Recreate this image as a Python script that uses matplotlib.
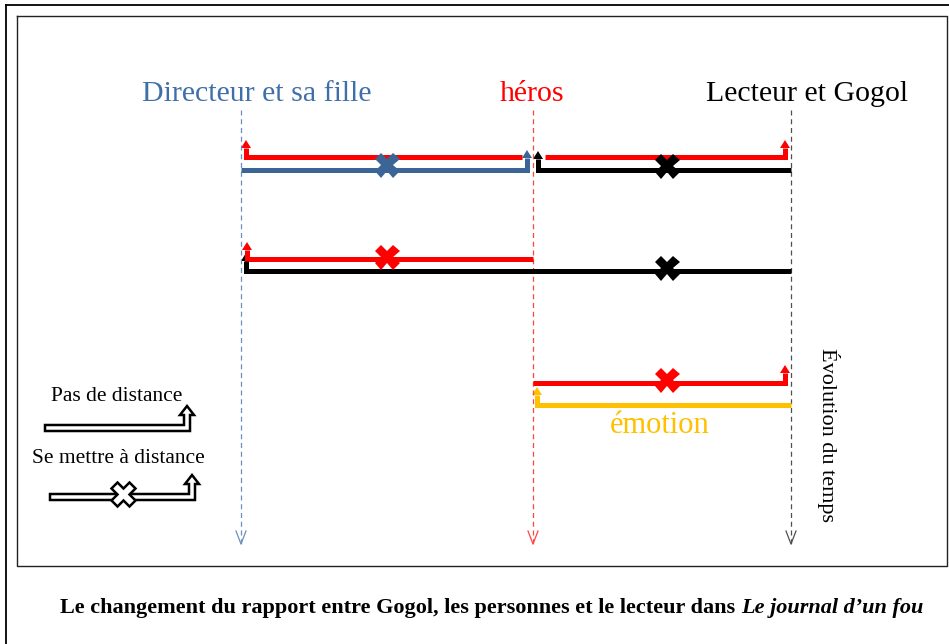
import matplotlib
matplotlib.use("Agg")
import matplotlib.pyplot as plt
from matplotlib.patches import Polygon

plt.rcParams['font.family'] = ['Liberation Serif', 'DejaVu Serif']

# ---- data (diagram coordinates, pixel-like units) ----
column_labels = ["Directeur et sa fille", "héros", "Lecteur et Gogol"]
column_x = [241, 533, 791]
column_colors = ["#3F6FA8", "#FF0000", "#000000"]
dash_colors = ["#6A8FC0", "#FF4444", "#505050"]

# bent arrows: x_from, x_to, y, arrow side x, arrow tip y, color
arrows_x0 = [246, 241, 545, 538, 247, 246, 533, 537]
arrows_x1 = [522, 527, 785, 791, 533, 791, 785, 791]
arrows_y = [157, 170, 157, 170, 259, 271, 383, 405]
arrows_tipx = [246, 527, 785, 538, 247, 246, 785, 537]
arrows_tipy = [140, 150, 140, 151, 242, 253, 365, 387]
arrows_col = ["#FF0000", "#3A6596", "#FF0000", "#000000",
              "#FF0000", "#000000", "#FF0000", "#FFC000"]

cross_x = [387, 667, 387, 667, 667]
cross_y = [165, 166, 257, 268, 380]
cross_col = ["#3A6596", "#000000", "#FF0000", "#000000", "#FF0000"]

legend_labels = ["Pas de distance", "Se mettre à distance"]
caption = "Le changement du rapport entre Gogol, les personnes et le lecteur dans "
caption_it = "Le journal d’un fou"

fig = plt.figure(figsize=(9.49, 6.44), dpi=100)
ax = fig.add_axes([0, 0, 1, 1])
ax.set_xlim(0, 949)
ax.set_ylim(644, 0)
ax.axis('off')

# borders
ax.plot([6, 6], [5, 644], color='black', lw=1.3)
ax.plot([6, 949], [5, 5], color='black', lw=1.3)
ax.plot([17, 947, 947, 17, 17], [16, 16, 566, 566, 16], color='#222222', lw=1.0)

# dashed time lines with open arrowheads
for x, c in zip(column_x, dash_colors):
    ax.plot([x, x], [110, 544], color=c, lw=0.9, ls=(0, (4, 3)))
    ax.plot([x - 5, x, x + 5], [531, 544, 531], color=c, lw=0.9)

# column labels
for lab, x, c in zip(column_labels, [257, 532, 807], column_colors):
    ax.text(x, 94, lab, color=c, fontsize=21.5, ha='center', va='center')

def bent_arrow(x0, x1, y, tx, ty, color, lw=3.6, hw=5, hl=8):
    other = x1 if abs(tx - x0) < abs(tx - x1) else x0
    ax.plot([other, tx, tx], [y, y, ty + hl], color=color, lw=lw,
            solid_joinstyle='miter', solid_capstyle='butt')
    ax.add_patch(Polygon([[tx - hw, ty + hl], [tx, ty], [tx + hw, ty + hl]],
                         closed=True, color=color, lw=0))

for x0, x1, y, tx, ty, c in zip(arrows_x0, arrows_x1, arrows_y,
                                arrows_tipx, arrows_tipy, arrows_col):
    bent_arrow(x0, x1, y, tx, ty, c)

for x, y, c in zip(cross_x, cross_y, cross_col):
    ax.plot([x], [y], marker='X', ms=18, color=c, mec=c, mew=0)

ax.text(660, 425, "émotion", color="#FFC000", fontsize=22,
        ha='center', va='center')

ax.text(829, 435, "Évolution du temps", rotation=-90, fontsize=16,
        ha='center', va='center', color='black')

# legend
def hollow_arrow(x0, x1, yc, ytip, t=6, hw=7, hl=9):
    pts = [[x0, yc - t / 2], [x1 - t / 2, yc - t / 2], [x1 - t / 2, ytip + hl],
           [x1 - hw, ytip + hl], [x1, ytip], [x1 + hw, ytip + hl],
           [x1 + t / 2, ytip + hl], [x1 + t / 2, yc + t / 2], [x0, yc + t / 2]]
    ax.add_patch(Polygon(pts, closed=True, facecolor='white',
                         edgecolor='black', lw=1.8, joinstyle='miter'))

ax.text(117, 396, legend_labels[0], fontsize=15.5, ha='center', va='center')
hollow_arrow(45, 187, 428, 406)
ax.text(118, 458, legend_labels[1], fontsize=15.5, ha='center', va='center')
hollow_arrow(50, 192, 497, 475)
ax.plot([123], [494], marker='X', ms=17, mfc='white', mec='black', mew=1.8)

# caption
t1 = ax.text(60, 608, caption, fontsize=16, fontweight='bold',
             ha='left', va='center')
ax.annotate(caption_it, xy=(1, 0), xycoords=t1, va='bottom', ha='left',
            fontsize=16, fontweight='bold', fontstyle='italic')

fig.savefig("out.png", dpi=100)
